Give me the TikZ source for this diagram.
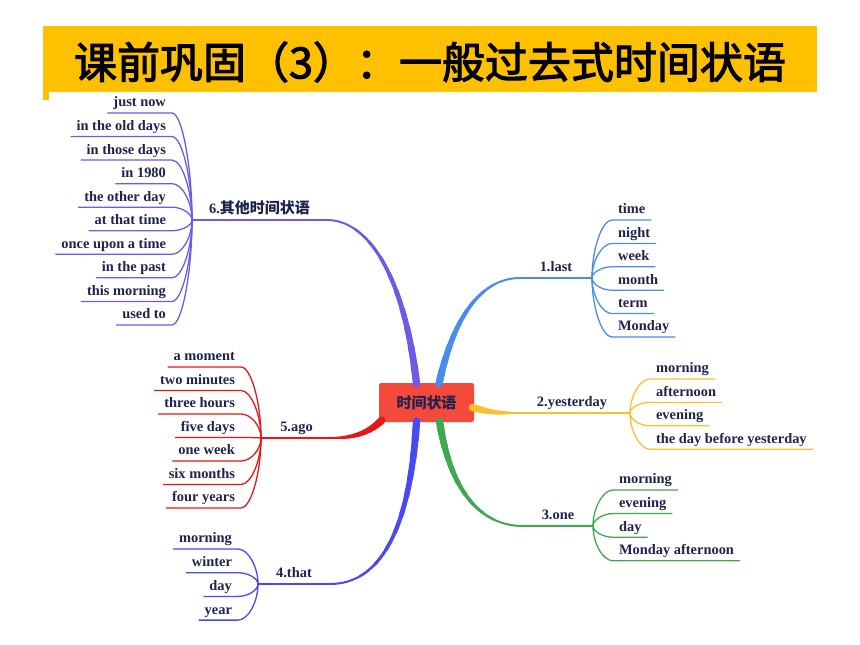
\documentclass[tikz,border=0pt]{standalone}
\usepackage{fontspec}
\setmainfont{Liberation Serif}
\newfontfamily\cjk{Noto Sans CJK SC}
\newfontfamily\headfont[FakeBold=2.5]{Noto Sans CJK SC}
\usetikzlibrary{calc}
\definecolor{banner}{RGB}{255,192,0}
\definecolor{corered}{RGB}{244,74,60}
\definecolor{ink}{RGB}{30,35,80}
\definecolor{c1}{RGB}{74,139,240}
\definecolor{c2}{RGB}{251,192,45}
\definecolor{c3}{RGB}{61,170,79}
\definecolor{c4}{RGB}{72,72,245}
\definecolor{c5}{RGB}{232,22,22}
\definecolor{c6}{RGB}{112,89,230}
\tikzset{
  leaf/.style={font=\bfseries\fontsize{12.3}{14}\selectfont, text=ink, inner xsep=5pt, inner ysep=5pt, text depth=0pt},
  twig/.style={line width=1.1pt},
  core/.style={fill=corered, rounded corners=2pt, minimum width=2.85cm, minimum height=1.17cm, inner sep=0pt, text=ink, font=\cjk\bfseries\fontsize{12.8}{14}\selectfont}
}
\def\limb[#1](#2)(#3)(#4)(#5)(#6){%
  \draw[#1, line cap=round, line width=1.7pt] (#2) .. controls (#3) and (#4) .. (#5);
  \foreach \k in {0,...,8}{%
    \pgfmathsetmacro\lw{(7.2-0.6*\k)*0.8536}%
    \pgfmathsetmacro\dl{#6*(\k+1)*0.08536}%
    \draw[#1, line cap=round, line width=\lw pt, dash pattern=on \dl pt off 2000pt] (#2) .. controls (#3) and (#4) .. (#5);}}

\begin{document}
\begin{tikzpicture}[x=0.03cm, y=-0.03cm]
	\useasboundingbox (0,0) rectangle (860,645);
	\fill[white] (0,0) rectangle (860,645);
	
	%%%%% TITLE %%%%%
	\fill[banner] (43,26) rectangle (817,92);
	\fill[banner] (43,92) rectangle (49,100);
	\node[font=\headfont\fontsize{36.7}{40}\selectfont] (title) at (430,62) {课前巩固（3）：一般过去式时间状语};
	
	%%%%% CENTRE %%%%%
	\node[core] (core) at (426.5,402.5) {时间状语};
	\coordinate (s6) at ($(core.north)+(-10,1)$);
	\coordinate (s1) at ($(core.north)+(12.5,1)$);
	\coordinate (s2) at ($(core.east)+(-2,5)$);
	\coordinate (s5) at ($(core.south west)+(3,-2)$);
	\coordinate (s4) at ($(core.south)+(-10,-1)$);
	\coordinate (s3) at ($(core.south)+(13,-1)$);
	
	\coordinate (b1) at (520,278); \coordinate (h1) at (592,278);
	\coordinate (b2) at (514,413); \coordinate (h2) at (630,413);
	\coordinate (b3) at (523,526); \coordinate (h3) at (593,526);
	\coordinate (b4) at (330,584); \coordinate (h4) at (258,584);
	\coordinate (b5) at (332,438); \coordinate (h5) at (261,438);
	\coordinate (b6) at (327,220); \coordinate (h6) at (192,220);
	
	\limb[c6](s6)(405,280)(370,220)(b6)(190)
	\limb[c1](s1)(455,310)(485,278)(b1)(130)
	\limb[c2](s2)(490,412)(495,413)(b2)(45)
	\limb[c3](s3)(450,490)(480,526)(b3)(130)
	\limb[c4](s4)(410,530)(380,584)(b4)(190)
	\limb[c5](s5)(370,432)(355,438)(b5)(55)
	
	\draw[c1, line width=1.7pt] (b1) -- (h1);
	\draw[c2, line width=1.7pt] (b2) -- (h2);
	\draw[c3, line width=1.7pt] (b3) -- (h3);
	\draw[c4, line width=1.7pt] (b4) -- (h4);
	\draw[c5, line width=1.7pt] (b5) -- (h5);
	\draw[c6, line width=1.7pt] (b6) -- (h6);
	
	\node[leaf, anchor=south] (n1) at ($(b1)!0.5!(h1)$) {1.last};
	\node[leaf, anchor=south] (n2) at ($(b2)!0.5!(h2)$) {2.yesterday};
	\node[leaf, anchor=south] (n3) at ($(b3)!0.5!(h3)$) {3.one};
	\node[leaf, anchor=south] (n4) at ($(b4)!0.5!(h4)$) {4.that};
	\node[leaf, anchor=south] (n5) at ($(b5)!0.5!(h5)$) {5.ago};
	\node[leaf, anchor=south] (n6) at ($(b6)!0.5!(h6)$) {6.{\cjk\fontsize{12.8}{14}\selectfont 其他时间状语}};
	
	%%%%% RIGHT LEAVES %%%%%
	\foreach \w [count=\i] in {time,night,week,month,term,Monday}{
		\node[leaf, anchor=south west] (l1-\i) at (612,{220+23.4*(\i-1)}) {\w};
		\draw[twig, c1] (h1) .. controls ($(h1)!0.5!(h1 |- l1-\i.south)$) and ($(l1-\i.south west)!0.5!(h1 |- l1-\i.south)$) .. (l1-\i.south west) -- (l1-\i.south east);}
	\foreach \w [count=\i] in {morning,afternoon,evening,the day before yesterday}{
		\node[leaf, anchor=south west] (l2-\i) at (650,{379+23.4*(\i-1)}) {\w};
		\draw[twig, c2] (h2) .. controls ($(h2)!0.5!(h2 |- l2-\i.south)$) and ($(l2-\i.south west)!0.5!(h2 |- l2-\i.south)$) .. (l2-\i.south west) -- (l2-\i.south east);}
	\foreach \w [count=\i] in {morning,evening,day,Monday afternoon}{
		\node[leaf, anchor=south west] (l3-\i) at (613,{490+23.6*(\i-1)}) {\w};
		\draw[twig, c3] (h3) .. controls ($(h3)!0.5!(h3 |- l3-\i.south)$) and ($(l3-\i.south west)!0.5!(h3 |- l3-\i.south)$) .. (l3-\i.south west) -- (l3-\i.south east);}
	
	%%%%% LEFT LEAVES %%%%%
	\foreach \w [count=\i] in {morning,winter,day,year}{
		\node[leaf, anchor=south east] (l4-\i) at (238,{549+23.7*(\i-1)}) {\w};
		\draw[twig, c4] (h4) .. controls ($(h4)!0.5!(h4 |- l4-\i.south)$) and ($(l4-\i.south east)!0.5!(h4 |- l4-\i.south)$) .. (l4-\i.south east) -- (l4-\i.south west);}
	\foreach \w [count=\i] in {a moment,two minutes,three hours,five days,one week,six months,four years}{
		\node[leaf, anchor=south east] (l5-\i) at (241,{367+23.5*(\i-1)}) {\w};
		\draw[twig, c5] (h5) .. controls ($(h5)!0.5!(h5 |- l5-\i.south)$) and ($(l5-\i.south east)!0.5!(h5 |- l5-\i.south)$) .. (l5-\i.south east) -- (l5-\i.south west);}
	\foreach \w [count=\i] in {just now,in the old days,in those days,in 1980,the other day,at that time,once upon a time,in the past,this morning,used to}{
		\node[leaf, anchor=south east] (l6-\i) at (172,{113+23.55*(\i-1)}) {\w};
		\draw[twig, c6] (h6) .. controls ($(h6)!0.5!(h6 |- l6-\i.south)$) and ($(l6-\i.south east)!0.5!(h6 |- l6-\i.south)$) .. (l6-\i.south east) -- (l6-\i.south west);}
\end{tikzpicture}
\end{document}
